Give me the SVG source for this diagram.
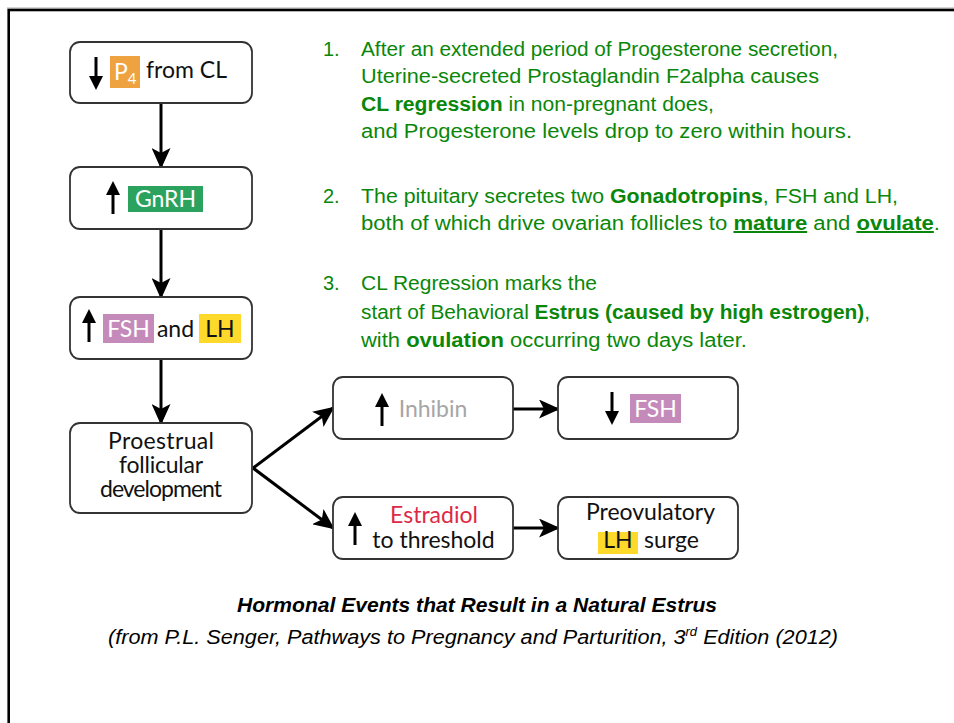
<svg xmlns="http://www.w3.org/2000/svg" xmlns:xlink="http://www.w3.org/1999/xlink" width="954" height="723" viewBox="0 0 954 723">
<style>
.box{fill:#fff;stroke:#333;stroke-width:1.8}
.nt{font-family:Lato,"Liberation Sans",sans-serif;font-size:23px;fill:#111}
.wt{fill:#fff}
.conn{stroke:#000;stroke-width:3;fill:none;marker-end:url(#ah)}
.gt{font-family:"Liberation Sans",Arial,sans-serif;font-size:20px;fill:#0A870A}
.b{font-weight:bold}
.cap{font-family:"Liberation Sans",Arial,sans-serif;font-size:20px;font-style:italic;fill:#000}
</style>
<defs>
<marker id="ah" markerUnits="userSpaceOnUse" markerWidth="21" markerHeight="19" viewBox="0 0 21 19" refX="19" refY="9.5" orient="auto">
<path d="M0,0 L21,9.5 L0,19 L5,9.5 Z" fill="#000"/>
</marker>
<g id="up"><line x1="0" y1="10" x2="0" y2="33" stroke="#000" stroke-width="3"/><polygon points="0,0 -7,14 7,14" fill="#000"/></g>
<g id="down"><line x1="0" y1="0" x2="0" y2="23" stroke="#000" stroke-width="3"/><polygon points="0,33 -7,19 7,19" fill="#000"/></g>
</defs>
<rect width="954" height="723" fill="#fff"/>
<line x1="7" y1="8" x2="954" y2="8" stroke="#aaa" stroke-width="1"/>
<rect x="8.7" y="10" width="960" height="730" fill="none" stroke="#000" stroke-width="2.6"/>

<g id="connectors">
<line class="conn" x1="161" y1="103" x2="161" y2="167"/>
<line class="conn" x1="161" y1="229" x2="161" y2="297"/>
<line class="conn" x1="161" y1="359" x2="161" y2="423"/>
<line class="conn" x1="253" y1="468" x2="333" y2="408"/>
<line class="conn" x1="253" y1="468" x2="333" y2="528"/>
<line class="conn" x1="513" y1="409" x2="558" y2="409"/>
<line class="conn" x1="513" y1="528" x2="558" y2="528"/>
</g>

<g id="n-p4">
<rect class="box" x="70" y="42" width="182" height="61" rx="10"/>
<use xlink:href="#down" x="96" y="57"/>
<rect x="110" y="56" width="30" height="32" fill="#EEA340"/>
<text class="nt wt" x="114" y="80" font-size="24">P<tspan font-size="15" dy="4">4</tspan></text>
<text class="nt" x="146" y="78" font-size="24.5">from CL</text>
</g>

<g id="n-gnrh">
<rect class="box" x="70" y="167" width="182" height="62" rx="10"/>
<use xlink:href="#up" x="113" y="181"/>
<rect x="128" y="186" width="75" height="26" fill="#2CA25F"/>
<text class="nt wt" x="165.5" y="207" text-anchor="middle" font-size="24.5">GnRH</text>
</g>

<g id="n-fshlh">
<rect class="box" x="70" y="297" width="182" height="62" rx="10"/>
<use xlink:href="#up" x="89" y="309"/>
<rect x="103" y="314" width="51" height="29" fill="#C48AB9"/>
<text class="nt wt" x="128.5" y="337" text-anchor="middle" font-size="24">FSH</text>
<text class="nt" x="175.5" y="337" text-anchor="middle" font-size="24">and</text>
<rect x="199" y="314" width="42" height="29" fill="#FCD92A"/>
<text class="nt" x="220" y="337" text-anchor="middle" font-size="24">LH</text>
</g>

<g id="n-proestrual">
<rect class="box" x="70" y="423" width="182" height="90" rx="10"/>
<text class="nt" x="161" y="449" text-anchor="middle" font-size="22" textLength="106">Proestrual</text>
<text class="nt" x="161" y="473" text-anchor="middle" font-size="22" textLength="84">follicular</text>
<text class="nt" x="161" y="497" text-anchor="middle" font-size="22" textLength="122">development</text>
</g>

<g id="n-inhibin">
<rect class="box" x="333" y="377" width="180" height="62" rx="10"/>
<use xlink:href="#up" x="382" y="393"/>
<text class="nt" x="433" y="417" text-anchor="middle" font-size="23" style="fill:#A6A6A6">Inhibin</text>
</g>

<g id="n-fshdown">
<rect class="box" x="558" y="377" width="180" height="62" rx="10"/>
<use xlink:href="#down" x="612" y="392"/>
<rect x="630" y="394" width="51" height="29" fill="#C48AB9"/>
<text class="nt wt" x="655.5" y="417" text-anchor="middle" font-size="24">FSH</text>
</g>

<g id="n-estradiol">
<rect class="box" x="333" y="497" width="180" height="62" rx="10"/>
<use xlink:href="#up" x="355" y="512"/>
<text class="nt" x="434" y="523" text-anchor="middle" font-size="23.5" style="fill:#DC2A46">Estradiol</text>
<text class="nt" x="433.5" y="548" text-anchor="middle" font-size="24.5">to threshold</text>
</g>

<g id="n-preov">
<rect class="box" x="558" y="497" width="180" height="62" rx="10"/>
<text class="nt" x="650.5" y="520" text-anchor="middle" font-size="24.5">Preovulatory</text>
<rect x="598" y="532" width="40" height="22" fill="#FCD92A"/>
<text class="nt" x="618" y="548" text-anchor="middle" font-size="24">LH</text>
<text class="nt" x="671.5" y="548" text-anchor="middle" font-size="24">surge</text>
</g>

<g id="notes">
<text class="gt" x="323" y="56">1.</text>
<text class="gt" x="361" y="56" textLength="477" lengthAdjust="spacingAndGlyphs">After an extended period of Progesterone secretion,</text>
<text class="gt" x="361" y="83" textLength="458" lengthAdjust="spacingAndGlyphs">Uterine-secreted Prostaglandin F2alpha causes</text>
<text class="gt" x="361" y="111" textLength="353" lengthAdjust="spacingAndGlyphs"><tspan class="b">CL regression</tspan> in non-pregnant does,</text>
<text class="gt" x="361" y="138" textLength="491" lengthAdjust="spacingAndGlyphs">and Progesterone levels drop to zero within hours.</text>

<text class="gt" x="323" y="203">2.</text>
<text class="gt" x="361" y="203" textLength="537" lengthAdjust="spacingAndGlyphs">The pituitary secretes two <tspan class="b">Gonadotropins</tspan>, FSH and LH,</text>
<text class="gt" x="361" y="230" textLength="579" lengthAdjust="spacingAndGlyphs">both of which drive ovarian follicles to <tspan class="b" text-decoration="underline">mature</tspan> and <tspan class="b" text-decoration="underline">ovulate</tspan>.</text>

<text class="gt" x="323" y="290">3.</text>
<text class="gt" x="361" y="290" textLength="236" lengthAdjust="spacingAndGlyphs">CL Regression marks the</text>
<text class="gt" x="361" y="319" textLength="509" lengthAdjust="spacingAndGlyphs">start of Behavioral <tspan class="b">Estrus (caused by high estrogen)</tspan>,</text>
<text class="gt" x="361" y="347" textLength="386" lengthAdjust="spacingAndGlyphs">with <tspan class="b">ovulation</tspan> occurring two days later.</text>
</g>

<g id="caption">
<text class="cap" x="237" y="612" font-weight="bold" textLength="480" lengthAdjust="spacingAndGlyphs">Hormonal Events that Result in a Natural Estrus</text>
<text class="cap" x="108" y="644" textLength="730" lengthAdjust="spacingAndGlyphs">(from P.L. Senger, Pathways to Pregnancy and Parturition, 3<tspan font-size="12" dy="-8">rd</tspan><tspan dy="8"> Edition (2012)</tspan></text>
</g>
</svg>
